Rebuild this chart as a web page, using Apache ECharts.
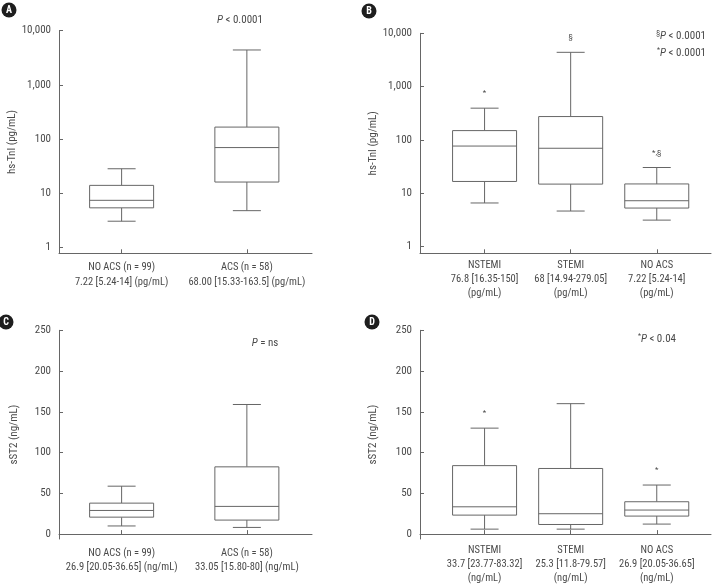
<!DOCTYPE html>
<html>
<head>
<meta charset="utf-8">
<script src="https://cdn.jsdelivr.net/npm/echarts@6/dist/echarts.min.js"></script>
<style>
  html, body { margin: 0; padding: 0; background: #fff; }
  #main { width: 717px; height: 588px; }
</style>
</head>
<body>
<div id="main"></div>
<script>
// each box = [lower whisker, Q1, median, Q3, upper whisker]
const catA = ['NO ACS (n = 99)\n7.22 [5.24-14] (pg/mL)', 'ACS (n = 58)\n68.00 [15.33-163.5] (pg/mL)'];
const tniA = [[3.0, 5.3, 7.3, 13.8, 28], [4.7, 15.9, 69, 165, 4400]];

const catB = ['NSTEMI\n76.8 [16.35-150]\n(pg/mL)', 'STEMI\n68 [14.94-279.05]\n(pg/mL)', 'NO ACS\n7.22 [5.24-14]\n(pg/mL)'];
const tniB = [[6.6, 16.7, 77, 150, 395], [4.66, 14.9, 70, 275, 4400], [3.15, 5.3, 7.27, 15, 30.5]];
const markB = ['*', '§', '*,§'];

const catC = ['NO ACS (n = 99)\n26.9 [20.05-36.65] (ng/mL)', 'ACS (n = 58)\n33.05 [15.80-80] (ng/mL)'];
const st2C = [[10, 20.8, 29, 38, 58.8], [8.2, 17.2, 34, 82.5, 159]];

const catD = ['NSTEMI\n33.7 [23.77-83.32]\n(ng/mL)', 'STEMI\n25.3 [11.8-79.57]\n(ng/mL)', 'NO ACS\n26.9 [20.05-36.65]\n(ng/mL)'];
const st2D = [[6.1, 23.3, 33.5, 84, 130], [6.1, 11.8, 25, 80.5, 160], [12.3, 22.1, 29.5, 39.7, 60.2]];
const markD = ['*', '', '*'];

const LINE = '#666';
const TEXT = '#4a4a4a';
const FONT = "'Liberation Sans Narrow', 'Roboto Condensed', 'DejaVu Sans Condensed', sans-serif";

const chart = echarts.init(document.getElementById('main'));

function boxRenderer(marks) {
  return function (params, api) {
    const x = api.value(0);
    const lo = api.coord([x, api.value(1)]);
    const q1 = api.coord([x, api.value(2)]);
    const md = api.coord([x, api.value(3)]);
    const q3 = api.coord([x, api.value(4)]);
    const hi = api.coord([x, api.value(5)]);
    const cx = lo[0];
    const hw = 32; // half box width
    const cw = 14; // half whisker cap
    const ls = { stroke: LINE, lineWidth: 1 };
    const kids = [
      { type: 'line', shape: { x1: cx, y1: hi[1], x2: cx, y2: q3[1] }, style: ls },
      { type: 'line', shape: { x1: cx, y1: q1[1], x2: cx, y2: lo[1] }, style: ls },
      { type: 'line', shape: { x1: cx - cw, y1: hi[1], x2: cx + cw, y2: hi[1] }, style: ls },
      { type: 'line', shape: { x1: cx - cw, y1: lo[1], x2: cx + cw, y2: lo[1] }, style: ls },
      { type: 'rect', shape: { x: cx - hw, y: q3[1], width: hw * 2, height: q1[1] - q3[1] },
        style: { stroke: LINE, lineWidth: 1, fill: '#fff' } },
      { type: 'line', shape: { x1: cx - hw, y1: md[1], x2: cx + hw, y2: md[1] }, style: ls }
    ];
    if (marks && marks[params.dataIndex]) {
      kids.push({ type: 'text', x: cx, y: hi[1] - 15,
        style: { text: marks[params.dataIndex], fill: TEXT, font: '8px ' + FONT, align: 'center', verticalAlign: 'middle' } });
    }
    return { type: 'group', children: kids };
  };
}

function xAxisFor(idx, cats, min, max, margin, lh) {
  const vals = cats.map((c, i) => i + 1);
  return {
    gridIndex: idx, type: 'value', min: min, max: max,
    axisLine: { lineStyle: { color: LINE, width: 1 } },
    axisTick: { inside: true, length: 4, customValues: vals, lineStyle: { color: LINE } },
    axisLabel: { customValues: vals, formatter: v => cats[Math.round(v) - 1] || '',
      color: TEXT, fontFamily: FONT, fontSize: 10.5, lineHeight: lh, margin: margin },
    splitLine: { show: false }
  };
}

function yAxisFor(idx, log, min, max, name, gap) {
  return {
    gridIndex: idx, type: log ? 'log' : 'value', logBase: 10, min: min, max: max,
    name: name, nameLocation: 'middle', nameGap: gap,
    nameTextStyle: { color: TEXT, fontFamily: FONT, fontSize: 11 },
    axisLine: { show: true, lineStyle: { color: LINE, width: 1 } },
    axisTick: { show: true, inside: true, length: 4, lineStyle: { color: LINE } },
    axisLabel: { showMinLabel: false, color: TEXT, fontFamily: FONT, fontSize: 11, margin: 8,
      formatter: v => Math.round(v).toLocaleString('en-US') },
    splitLine: { show: false }
  };
}

function boxSeries(idx, boxes, marks) {
  return {
    type: 'custom', xAxisIndex: idx, yAxisIndex: idx,
    renderItem: boxRenderer(marks),
    encode: { x: 0, y: [1, 2, 3, 4, 5] },
    data: boxes.map((b, i) => [i + 1].concat(b)),
    silent: true
  };
}

function letter(cx, cy, ch) {
  return [
    { type: 'circle', shape: { cx: cx, cy: cy, r: 7.5 }, style: { fill: '#1e1e1e' } },
    { type: 'text', x: cx, y: cy + 0.5, style: { text: ch, fill: '#fff', font: 'bold 10px ' + FONT, align: 'center', verticalAlign: 'middle' } }
  ];
}

const rich = {
  i: { fontStyle: 'italic', fontSize: 11, fontFamily: FONT, color: TEXT, lineHeight: 13 },
  n: { fontSize: 11, fontFamily: FONT, color: TEXT, lineHeight: 13 },
  s: { fontSize: 7, fontFamily: FONT, color: TEXT, verticalAlign: 'top', lineHeight: 7, padding: [0, 0, 5, 0] }
};

function pText(x, y, txt, align) {
  return { type: 'text', x: x, y: y,
    style: { text: txt, rich: rich, fill: TEXT, font: '11px ' + FONT, align: align || 'center', verticalAlign: 'middle' } };
}

const option = {
  animation: false,
  backgroundColor: '#fff',
  grid: [
    { left: 59, top: 30.7, width: 253, height: 222.6, outerBoundsMode: 'none' },
    { left: 420, top: 33.3, width: 291, height: 220, outerBoundsMode: 'none' },
    { left: 59, top: 330.3, width: 253, height: 208.7, outerBoundsMode: 'none' },
    { left: 420, top: 330.3, width: 291, height: 208.7, outerBoundsMode: 'none' }
  ],
  xAxis: [
    xAxisFor(0, catA, 0.5, 2.52, 7, 14.6),
    xAxisFor(1, catB, 0.25, 3.63, 5, 14),
    xAxisFor(2, catC, 0.5, 2.52, 7, 14.4),
    xAxisFor(3, catD, 0.25, 3.63, 5, 13.6)
  ],
  yAxis: [
    yAxisFor(0, true, 0.765, 10000, 'hs-TnI (pg/mL)', 40),
    yAxisFor(1, true, 0.752, 10000, 'hs-TnI (pg/mL)', 41),
    yAxisFor(2, false, -6, 250, 'sST2 (ng/mL)', 39),
    yAxisFor(3, false, -6, 250, 'sST2 (ng/mL)', 41)
  ],
  series: [
    boxSeries(0, tniA),
    boxSeries(1, tniB, markB),
    boxSeries(2, st2C),
    boxSeries(3, st2D, markD)
  ],
  graphic: [].concat(
    letter(9, 10, 'A'), letter(369, 11, 'B'), letter(6, 322, 'C'), letter(372, 322, 'D'),
    [
      pText(240, 20, '{i|P}{n| < 0.0001}'),
      pText(706, 36, '{s|§}{i|P}{n| < 0.0001}', 'right'),
      pText(706, 53, '{s|*}{i|P}{n| < 0.0001}', 'right'),
      pText(265, 343, '{i|P}{n| = ns}'),
      pText(657, 339, '{s|*}{i|P}{n| < 0.04}')
    ]
  )
};

chart.setOption(option);
</script>
</body>
</html>
